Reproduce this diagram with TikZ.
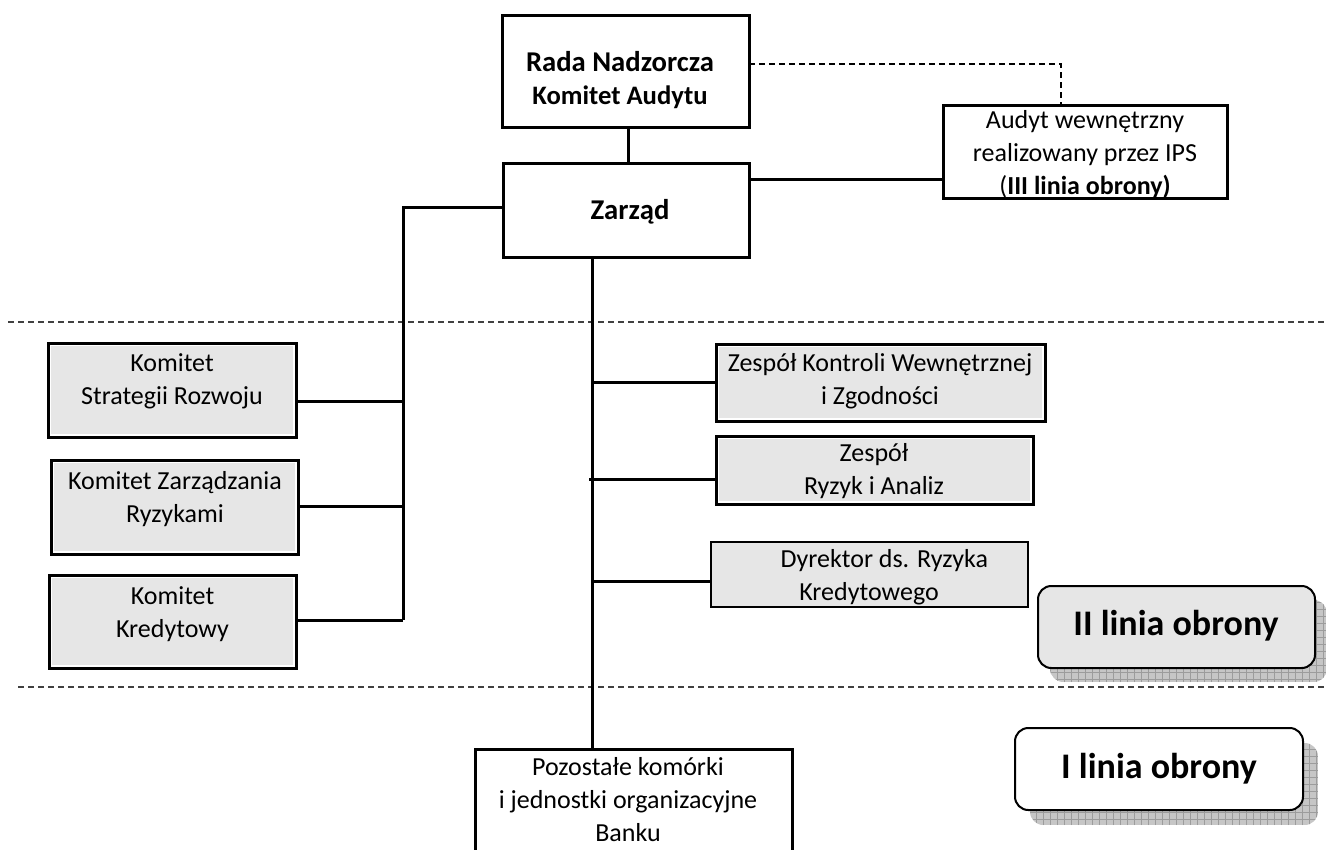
\documentclass[tikz,border=0pt]{standalone}
\usepackage{fontspec}
\setmainfont{Carlito}
\usetikzlibrary{fit}
\definecolor{boxgray}{HTML}{E6E6E6}
\definecolor{shadowgray}{HTML}{C6C6C6}
\definecolor{gridgray}{HTML}{9C9C9C}
\tikzset{
  frame/.style={draw, line width=2.25pt, inner sep=0pt, outer sep=0pt},
  graybox/.style={frame, fill=white,
    path picture={\fill[boxgray] ([xshift=2.6pt,yshift=-2.6pt]path picture bounding box.north west) rectangle ([xshift=-2.6pt,yshift=2.6pt]path picture bounding box.south east);}},
  thinbox/.style={draw, line width=1.1pt, fill=boxgray, inner sep=0pt, outer sep=0pt},
  txt/.style={inner sep=0pt, align=center, font=\fontsize{19.5}{24.75}\selectfont},
  boldtxt/.style={inner sep=0pt, align=center, font=\bfseries\fontsize{21.5}{24.75}\selectfont},
  bigtxt/.style={inner sep=0pt, font=\bfseries\fontsize{27}{30}\selectfont},
  conn/.style={line width=2.25pt},
  dashconn/.style={line width=1.1pt, dash pattern=on 4.5pt off 3pt},
  separator/.style={line width=1.1pt, dash pattern=on 4.5pt off 3pt, black!75},
  roundbox/.style={draw, line width=1.5pt, rounded corners=10pt, inner sep=0pt, outer sep=0pt},
  shadowfill/.style={fill=shadowgray},
  shadowgrid/.style={draw=gridgray, line width=0.4pt},
}
\begin{document}
\begin{tikzpicture}[x=0.75pt,y=-0.75pt]
\useasboundingbox (0,0) rectangle (1326,849);
\clip (0,0) rectangle (1326,849);

% separators
\coordinate (s1a) at (8,322);  \coordinate (s1b) at (1326,322);
\coordinate (s2a) at (18,687); \coordinate (s2b) at (1326,687);
\draw[separator] (s1a) -- (s1b);
\draw[separator] (s2a) -- (s2b);

% top boxes
\node[frame, fill=white, fit={(502,16) (749,127)}] (rada) {};
\node[boldtxt] (radaT) at (620,80.5) {Rada Nadzorcza\\{\fontsize{20}{24.75}\selectfont Komitet Audytu}};
\node[frame, fill=white, fit={(503,163) (749,257)}] (zarzad) {};
\node[boldtxt] (zarzadT) at (630,212) {Zarząd};
\node[frame, fill=white, fit={(943,105) (1227,198)}] (audyt) {};
\node[txt] (audytT) at (1085,154.5) {Audyt wewnętrzny\\realizowany przez IPS\\(\textbf{III linia obrony)}};

% left committees
\node[graybox, fit={(48,343) (296,437)}] (ksr) {};
\node[txt] (ksrT) at (172,381.5) {Komitet\\Strategii Rozwoju};
\node[graybox, fit={(51,460) (298,554)}] (kzr) {};
\node[txt] (kzrT) at (175,499) {Komitet Zarządzania\\Ryzykami};
\node[graybox, fit={(49,575) (296,668)}] (kk) {};
\node[txt] (kkT) at (172.5,614.5) {Komitet\\Kredytowy};

% right units
\node[graybox, fit={(716,344) (1045,421)}] (zkw) {};
\node[txt] (zkwT) at (880,381) {Zespół Kontroli Wewnętrznej\\i Zgodności};
\node[graybox, fit={(716,436) (1033,504)}] (zra) {};
\node[txt] (zraT) at (874,471) {Zespół\\Ryzyk i Analiz};
\node[thinbox, fit={(711,542) (1028,607)}] (dyr) {};
\node[txt] (dyrT) at (869,577) {\hspace*{23pt}Dyrektor ds. Ryzyka\\Kredytowego};

% bottom box
\node[frame, fill=white, fit={(475,749) (792,880)}] (poz) {};
\node[txt] (pozT) at (628,800) {Pozostałe komórki\\i jednostki organizacyjne\\Banku};

% lines of defence with shadows
\begin{scope}
  \clip[rounded corners=10pt] (1050,600) rectangle (1327,682);
  \fill[shadowfill] (1050,600) rectangle (1327,682);
  \draw[shadowgrid, step=5.25pt] (1050,600) grid (1327,682);
\end{scope}
\node[roundbox, fill=boxgray, fit={(1038,586) (1315,668)}] (l2) {};
\node[bigtxt] (l2T) at (1176,626) {II linia obrony};

\begin{scope}
  \clip[rounded corners=10pt] (1030,743) rectangle (1318,825);
  \fill[shadowfill] (1030,743) rectangle (1318,825);
  \draw[shadowgrid, step=5.25pt] (1030,743) grid (1318,825);
\end{scope}
\node[roundbox, fill=white, fit={(1015,728) (1303,810)}] (l1) {};
\node[bigtxt] (l1T) at (1159,769) {I linia obrony};

% connectors
\coordinate (rz) at (628,0);
\draw[conn] (rada.south -| rz) -- (zarzad.north -| rz);
\coordinate (za) at (0,179);
\draw[conn] (zarzad.east |- za) -- (audyt.west |- za);
\coordinate (dk) at (1061,64);
\draw[dashconn] (rada.east |- dk) -- (dk) -- (audyt.north -| dk);

\coordinate (busTop) at (403,207);
\coordinate (busA) at (403,401);
\coordinate (busB) at (403,506);
\coordinate (busBot) at (403,620);
\draw[conn] (zarzad.west |- busTop) -- (busTop) -- (busBot);
\draw[conn] (ksr.east |- busA) -- (busA);
\draw[conn] (kzr.east |- busB) -- (busB);
\draw[conn] (kk.east |- busBot) -- (busBot);

\coordinate (mb) at (592,0);
\draw[conn] (zarzad.south -| mb) -- (poz.north -| mb);
\coordinate (mA) at (592,382);
\coordinate (mB) at (589,479);
\coordinate (mC) at (592,581);
\draw[conn] (mA) -- (zkw.west |- mA);
\draw[conn] (mB) -- (zra.west |- mB);
\draw[conn] (mC) -- (dyr.west |- mC);
\end{tikzpicture}
\end{document}
